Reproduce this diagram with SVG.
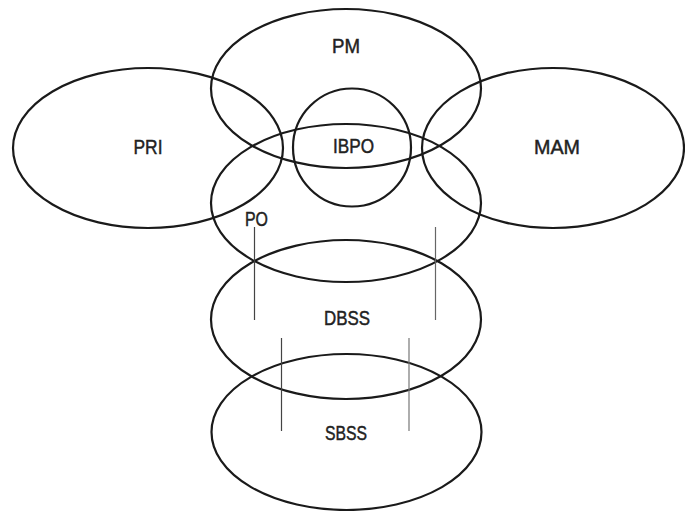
<svg xmlns="http://www.w3.org/2000/svg" width="685" height="511" viewBox="0 0 685 511">
<style>
.sh{fill:none;stroke:#1a1a1a;stroke-width:2.2}
.t{font-family:"Liberation Sans",Arial,sans-serif;font-size:19.5px;fill:#222;stroke:#222;stroke-width:0.45;text-anchor:middle}
.ln{stroke:#444;stroke-width:1.2}
</style>
<rect width="685" height="511" fill="#fff"/>
<g id="PRI"><ellipse class="sh" cx="148" cy="148" rx="135" ry="80"/><text class="t" x="148" y="154" textLength="29" lengthAdjust="spacingAndGlyphs">PRI</text></g>
<g id="MAM"><ellipse class="sh" cx="553" cy="148" rx="131" ry="80"/><text class="t" x="557" y="154" textLength="46" lengthAdjust="spacingAndGlyphs">MAM</text></g>
<g id="PM"><ellipse class="sh" cx="346" cy="88.5" rx="135" ry="79.5"/><text class="t" x="346" y="52.5" textLength="28" lengthAdjust="spacingAndGlyphs">PM</text></g>
<g id="IBPO"><ellipse class="sh" cx="352" cy="147.5" rx="59" ry="59"/><text class="t" x="353.5" y="152.5" textLength="41" lengthAdjust="spacingAndGlyphs">IBPO</text></g>
<g id="PO"><ellipse class="sh" cx="346" cy="203" rx="135" ry="79"/><text class="t" x="256.5" y="225.5" textLength="23" lengthAdjust="spacingAndGlyphs">PO</text></g>
<g id="DBSS"><ellipse class="sh" cx="346" cy="319.5" rx="135" ry="79.5"/><text class="t" x="347" y="325" textLength="46" lengthAdjust="spacingAndGlyphs">DBSS</text></g>
<g id="SBSS"><ellipse class="sh" cx="346.5" cy="432" rx="135" ry="78"/><text class="t" x="346" y="440" textLength="42" lengthAdjust="spacingAndGlyphs">SBSS</text></g>
<g id="connectors">
<line class="ln" x1="254.5" y1="227" x2="254.5" y2="320"/>
<line class="ln" x1="435.5" y1="227" x2="435.5" y2="320" style="stroke:#666"/>
<line class="ln" x1="281.5" y1="338" x2="281.5" y2="431"/>
<line class="ln" x1="409" y1="338" x2="409" y2="431" style="stroke:#777"/>
</g>
</svg>
